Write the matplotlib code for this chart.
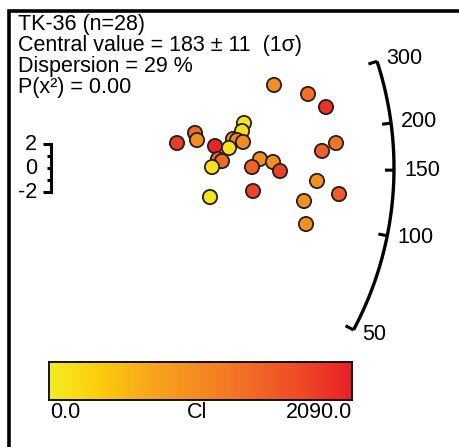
import numpy as np
import matplotlib.pyplot as plt
from matplotlib.colors import LinearSegmentedColormap

plt.rcParams['font.family'] = ['Liberation Sans', 'DejaVu Sans']

# precision (1/sigma) and standardised estimate of each grain, plus its Cl value
precision = [8.96, 10.32, 11.04, 7.76, 7.68, 5.80, 5.88, 5.08, 7.32, 7.48, 7.72,
             6.60, 7.16, 11.44, 10.88, 6.72, 6.88, 6.48, 8.40, 8.92, 8.08, 9.20,
             10.68, 6.40, 8.12, 10.16, 11.56, 10.24]
std_est = [6.92, 6.17, 5.08, 3.75, 3.08, 2.92, 2.33, 2.08, 2.42, 2.33, 2.17,
           1.83, 1.67, 2.08, 1.42, 0.75, 0.58, 0.08, 0.75, 0.50, 0.08, -0.25,
           -1.08, -2.42, -1.92, -2.75, -2.17, -4.67]
cl = [1000, 1300, 1950, 80, 150, 1400, 1000, 1850, 1000, 1100, 1050,
      2050, 120, 1250, 1500, 1450, 1400, 100, 1000, 1000, 1500, 1800,
      950, 60, 1800, 950, 1550, 950]

arc_ticks = [50, 100, 150, 200, 300]
z_ticks = [2, 0, -2]
cl_min, cl_max = 0.0, 2090.0

title_lines = ['TK-36 (n=28)',
               'Central value = 183 \u00b1 11  (1\u03c3)',
               'Dispersion = 29 %',
               'P(x\u00b2) = 0.00']

t_ref = 152.0      # age of the horizontal ray
slope_k = 0.48     # pixel slope per unit of ln(t / t_ref)
R = 344.0          # arc radius in pixels
sx, sy = 25.0, 12.0  # pixels per unit on x and y
fs = 15.5

cmap = LinearSegmentedColormap.from_list(
    'cl', ['#f4ec22', '#fdcd0a', '#f9a51c', '#f58a20', '#f26a25', '#ee4a28', '#ec1f26'])

W, H = 459, 447
fig = plt.figure(figsize=(W / 100, H / 100), dpi=100)
ax = fig.add_axes([0, 0, 1, 1])
x0, y0 = 50, 168  # origin in pixels
ax.set_xlim(-x0 / sx, (W - x0) / sx)
ax.set_ylim((y0 - H) / sy, y0 / sy)
ax.axis('off')


def px(x, y):
    return (x - x0) / sx, (y0 - y) / sy


# frame (left and top edges)
fx, fy = px(9, 11)
ax.plot([fx, fx, 20], [-30, fy, fy], color='black', lw=2.6, solid_capstyle='butt',
        solid_joinstyle='miter', clip_on=False)

# title text
for i, line in enumerate(title_lines):
    tx, ty = px(18, 30 + 21 * i)
    ax.text(tx, ty, line, fontsize=fs, ha='left', va='baseline')

# z scale bar
zx = px(51, 0)[0]
ax.plot([zx, zx], [min(z_ticks), max(z_ticks)], color='black', lw=2.2)
for z in [2, 1, 0, -1, -2]:
    tl = 8 if abs(z) == 2 else 4
    ax.plot([zx - tl / sx, zx], [z, z], color='black', lw=2.2, solid_capstyle='butt')
for z in z_ticks:
    ax.text(px(37, 0)[0], z, str(z), fontsize=fs, ha='right', va='center')


def arc_point(t, r):
    th = np.arctan(slope_k * np.log(t / t_ref))
    return r * np.cos(th) / sx, r * np.sin(th) / sy


tt = np.exp(np.linspace(np.log(min(arc_ticks)), np.log(max(arc_ticks)), 200))
ax_, ay_ = arc_point(tt, R)
ax.plot(ax_, ay_, color='black', lw=2.4, solid_capstyle='butt')
for t in arc_ticks:
    xa, ya = arc_point(t, R)
    xb, yb = arc_point(t, R - 9)
    ax.plot([xa, xb], [ya, yb], color='black', lw=2.2, solid_capstyle='butt')
    xl, yl = arc_point(t, R + 10)
    ax.text(xl, yl, str(t), fontsize=fs, ha='left', va='center')

# grains
ax.scatter(precision, std_est, c=cl, cmap=cmap, vmin=cl_min, vmax=cl_max,
           s=105, edgecolors='#231f20', linewidths=1.3, zorder=3)

# colour bar
cax = fig.add_axes([49 / W, 1 - 400 / H, 303 / W, 38 / H])
cax.imshow(np.linspace(cl_min, cl_max, 256)[None, :], aspect='auto', cmap=cmap,
           extent=[cl_min, cl_max, 0, 1])
cax.set_xticks([])
cax.set_yticks([])
for s in cax.spines.values():
    s.set_linewidth(1.3)
fig.text(50 / W, 1 - 413 / H, '%.1f' % cl_min, fontsize=fs, ha='left', va='center')
fig.text(197 / W, 1 - 413 / H, 'Cl', fontsize=fs, ha='center', va='center')
fig.text(352 / W, 1 - 413 / H, '%.1f' % cl_max, fontsize=fs, ha='right', va='center')

fig.savefig('out.png', dpi=100)
